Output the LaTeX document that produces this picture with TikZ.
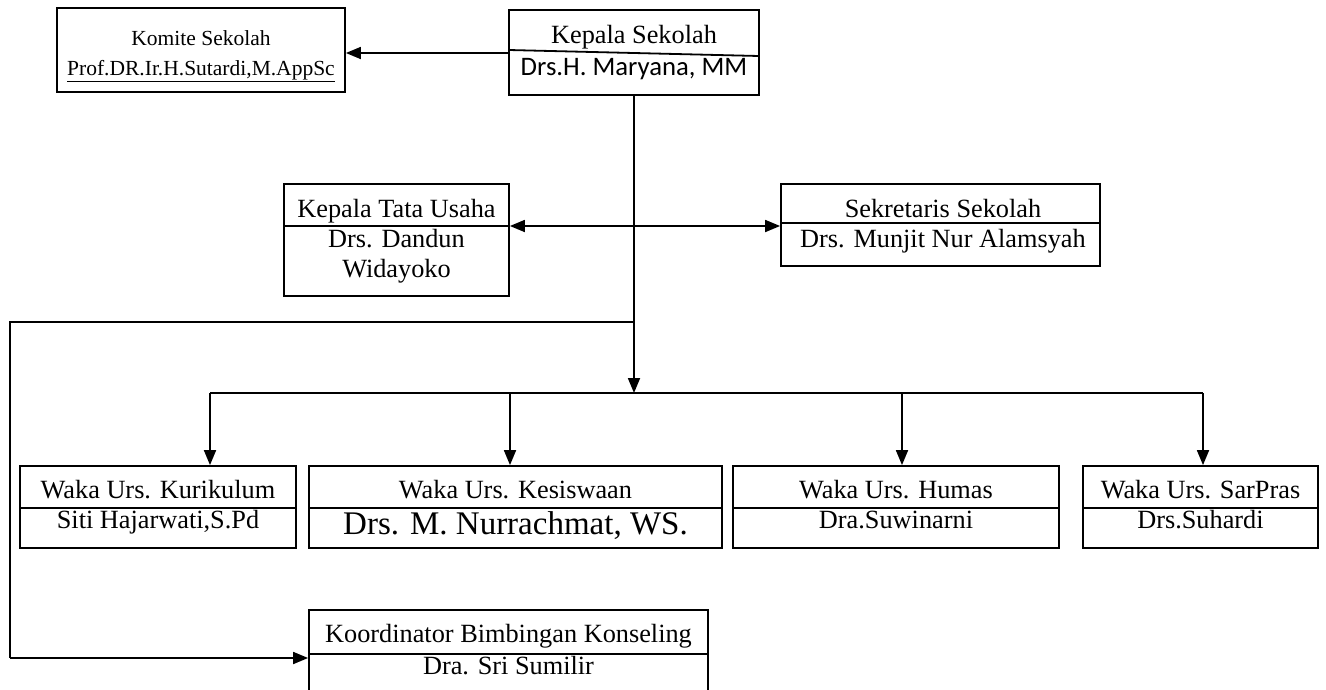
\documentclass[tikz,border=0pt]{standalone}
\usepackage{fontspec}
\setmainfont{Liberation Serif}
\newfontfamily\calibri{Carlito}
\usetikzlibrary{arrows.meta}
\begin{document}
\begin{tikzpicture}[x=1pt,y=-1pt,
  box/.style={draw, line width=1.8pt, rectangle, inner sep=0pt},
  div/.style={line width=1.8pt},
  txt/.style={inner sep=0pt, anchor=base, font=\fontsize{26.3}{30}\selectfont},
  small/.style={inner sep=0pt, anchor=base, font=\fontsize{21.5}{25}\selectfont},
  big/.style={inner sep=0pt, anchor=base, font=\fontsize{33}{36}\selectfont},
  conn/.style={line width=1.8pt},
  arr/.style={line width=1.8pt, -{Triangle[length=15pt,width=12pt]}},
  darr/.style={line width=1.8pt, {Triangle[length=15pt,width=12pt]}-{Triangle[length=15pt,width=12pt]}}
]
\useasboundingbox[fill=white] (0,0) rectangle (1326,689);

% top boxes
\node[box, minimum width=288pt, minimum height=84pt] (komite) at (201,50) {};
\node[small] (komite1) at (201,45) {Komite Sekolah};
\node[small] (komite2) at (201,75) {\underline{Prof.DR.Ir.H.Sutardi,M.AppSc}};

\node[box, minimum width=250pt, minimum height=85pt] (kepala) at (634,52.5) {};
\draw[div] (509,50) -- (759,56);
\node[txt] (kepala1) at (634,43) {Kepala Sekolah};
\node[txt, font=\calibri\fontsize{26.7}{30}\selectfont] (kepala2) at (634,75) {Drs.H. Maryana, MM};

\draw[arr] (kepala.west |- 0,53) -- (komite.east |- 0,53);

% middle boxes
\node[box, minimum width=225pt, minimum height=112pt] (ktu) at (396.5,240) {};
\draw[div] (284,226) -- (509,226);
\node[txt] (ktu1) at (396.5,217) {Kepala Tata Usaha};
\node[txt] (ktu2) at (396.5,247) {Drs. Dandun};
\node[txt] (ktu3) at (396.5,277) {Widayoko};

\node[box, minimum width=319pt, minimum height=82pt] (sek) at (940.5,225) {};
\draw[div] (781,223) -- (1100,223);
\node[txt] (sek1) at (943,217) {Sekretaris Sekolah};
\node[txt] (sek2) at (943,247) {Drs. Munjit Nur Alamsyah};

% main trunk
\coordinate (jmid) at (634,226);
\coordinate (jleft) at (634,322);
\coordinate (jbus) at (634,393);
\draw[conn] (kepala.south) -- (jleft);
\draw[arr] (jleft) -- (jbus);
\draw[darr] (ktu.east |- jmid) -- (sek.west |- jmid);

% waka boxes
\node[box, minimum width=276pt, minimum height=82pt] (kur) at (158,507) {};
\draw[div] (20,508) -- (296,508);
\node[txt] (kur1) at (158,498) {Waka Urs. Kurikulum};
\node[txt] (kur2) at (158,528) {Siti Hajarwati,S.Pd};

\node[box, minimum width=413pt, minimum height=82pt] (kes) at (515.5,507) {};
\draw[div] (309,508) -- (722,508);
\node[txt] (kes1) at (515.5,498) {Waka Urs. Kesiswaan};
\node[big] (kes2) at (515.5,534) {Drs. M. Nurrachmat, WS.};

\node[box, minimum width=326pt, minimum height=82pt] (hum) at (896,507) {};
\draw[div] (733,508) -- (1059,508);
\node[txt] (hum1) at (896,498) {Waka Urs. Humas};
\node[txt] (hum2) at (896,528) {Dra.Suwinarni};

\node[box, minimum width=235pt, minimum height=82pt] (sar) at (1200.5,507) {};
\draw[div] (1083,508) -- (1318,508);
\node[txt] (sar1) at (1200.5,498) {Waka Urs. SarPras};
\node[txt] (sar2) at (1200.5,528) {Drs.Suhardi};

% bus
\coordinate (b1) at (210,393);
\coordinate (b2) at (510,393);
\coordinate (b3) at (902,393);
\coordinate (b4) at (1203,393);
\draw[conn] (b1) -- (b4);
\draw[arr] (b1) -- (b1 |- kur.north);
\draw[arr] (b2) -- (b2 |- kes.north);
\draw[arr] (b3) -- (b3 |- hum.north);
\draw[arr] (b4) -- (b4 |- sar.north);

% koordinator
\node[box, minimum width=399pt, minimum height=92pt] (koord) at (508.5,656) {};
\draw[div] (309,654) -- (708,654);
\node[txt] (koord1) at (508.5,642) {Koordinator Bimbingan Konseling};
\node[txt] (koord2) at (508.5,674) {Dra. Sri Sumilir};

\coordinate (l1) at (10,322);
\coordinate (l2) at (10,658);
\draw[conn] (jleft) -- (l1) -- (l2);
\draw[arr] (l2) -- (koord.west |- l2);
\end{tikzpicture}
\end{document}
